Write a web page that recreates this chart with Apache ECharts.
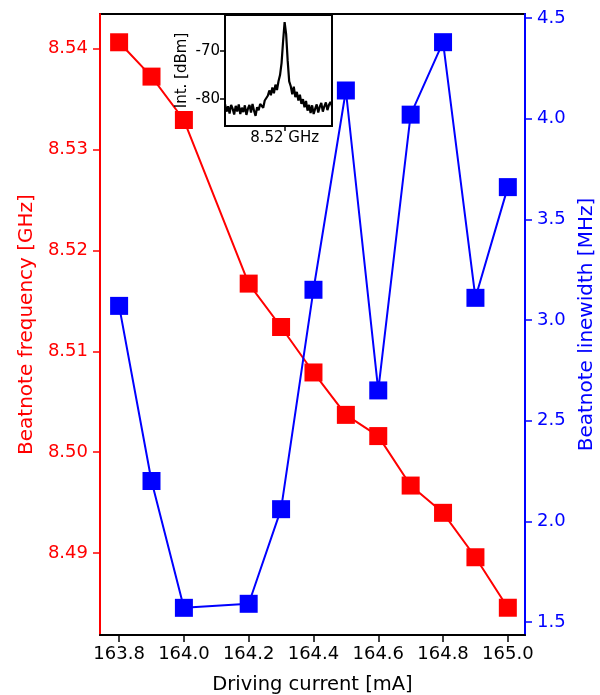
<!DOCTYPE html>
<html>
<head>
    <meta charset="utf-8">
    <title>Beatnote</title>
    <script src="https://cdn.jsdelivr.net/npm/echarts@6/dist/echarts.min.js"></script>
    <style>
        body{ margin:0; background:#fff; }
        #main{ width:600px; height:695px; }
    </style>
</head>
<body>
<div id="main"></div>
<script>
// driving current [mA]
var current = [163.8, 163.9, 164.0, 164.2, 164.3, 164.4, 164.5, 164.6, 164.7, 164.8, 164.9, 165.0];
// beatnote frequency [GHz]
var freq = [8.5406, 8.5372, 8.5329, 8.5167, 8.5124, 8.5079, 8.5037, 8.5016, 8.4967, 8.4940, 8.4896, 8.4846];
// beatnote linewidth [MHz]
var linewidth = [3.07, 2.20, 1.57, 1.59, 2.06, 3.15, 4.14, 2.65, 4.02, 4.38, 3.11, 3.66];

var xTicks = [163.8, 164.0, 164.2, 164.4, 164.6, 164.8, 165.0];
var freqTicks = [8.49, 8.50, 8.51, 8.52, 8.53, 8.54];
var lwTicks = [1.5, 2.0, 2.5, 3.0, 3.5, 4.0, 4.5];

// inset spectrum [dBm], peak sits at 8.52 GHz
var spectrum = [-81.0,-82.6,-81.5,-83.0,-81.2,-82.0,-83.2,-81.4,-82.6,-81.1,
    -83.1,-81.8,-82.7,-81.3,-83.3,-82.0,-81.2,-82.8,-81.0,-82.4,
    -83.5,-81.7,-82.3,-81.0,-80.9,-81.8,-80.3,-80.2,-79.3,-78.2,
    -79.2,-77.6,-78.8,-77.0,-78.1,-76.3,-75.0,-72.5,-68.0,-64.0,
    -66.5,-72.0,-76.3,-77.3,-79.0,-77.4,-79.6,-78.5,-80.3,-79.1,
    -81.0,-80.0,-81.7,-80.4,-82.4,-81.2,-82.9,-81.3,-83.1,-82.0,
    -81.1,-82.8,-81.6,-80.8,-82.6,-81.5,-80.7,-82.3,-81.2,-80.6,-81.5];
var peakIndex = 39;
var insetTicks = [-80, -70];

var font = 'DejaVu Sans';
var red = '#ff0000', blue = '#0000ff';

function pairs(xs, ys){
    var out = [];
    for (var i = 0; i < xs.length; i++) out.push([xs[i], ys[i]]);
    return out;
}
var specData = spectrum.map(function(v, i){ return [i, v]; });

var chart = echarts.init(document.getElementById('main'));
chart.setOption({
    animation: false,
    backgroundColor: '#fff',
    textStyle: { fontFamily: font },
    grid: [
        { left: 100, right: 75, top: 14, bottom: 60, outerBoundsMode: 'none', containLabel: false,
          show: true, borderColor: '#000', borderWidth: 2 },
        { left: 225, top: 15, width: 107, height: 111, outerBoundsMode: 'none', containLabel: false,
          show: true, backgroundColor: '#fff', borderColor: '#000', borderWidth: 2, z: 10 }
    ],
    xAxis: [
        {
            type: 'value', gridIndex: 0, min: 163.741, max: 165.053,
            name: 'Driving current [mA]', nameLocation: 'middle', nameGap: 40,
            nameTextStyle: { fontSize: 19.5, color: '#000', fontFamily: font },
            axisLine: { lineStyle: { color: '#000', width: 2 } },
            axisTick: { customValues: xTicks, length: 7, lineStyle: { color: '#000', width: 1.5 } },
            axisLabel: { customValues: xTicks, fontSize: 18, color: '#000', margin: 10,
                formatter: function(v){ return v.toFixed(1); } },
            splitLine: { show: false }
        },
        {
            type: 'value', gridIndex: 1, min: 0, max: 70,
            axisLine: { lineStyle: { color: '#000', width: 2 } },
            axisTick: { customValues: [peakIndex], length: 5, lineStyle: { color: '#000', width: 1.5 } },
            axisLabel: { customValues: [peakIndex], fontSize: 15, color: '#000', margin: 5,
                formatter: function(){ return '8.52 GHz'; } },
            splitLine: { show: false }, z: 10
        }
    ],
    yAxis: [
        {
            type: 'value', gridIndex: 0, min: 8.4819, max: 8.5434, position: 'left',
            name: 'Beatnote frequency [GHz]', nameLocation: 'middle', nameGap: 63,
            nameTextStyle: { fontSize: 20, color: red, fontFamily: font },
            axisLine: { show: true, lineStyle: { color: red, width: 2 } },
            axisTick: { show: true, customValues: freqTicks, length: 7, lineStyle: { color: red, width: 1.5 } },
            axisLabel: { customValues: freqTicks, fontSize: 18, color: red, margin: 12,
                formatter: function(v){ return v.toFixed(2); } },
            splitLine: { show: false }
        },
        {
            type: 'value', gridIndex: 0, min: 1.435, max: 4.52, position: 'right',
            name: 'Beatnote linewidth [MHz]', nameLocation: 'middle', nameGap: 49, nameRotate: 90,
            nameTextStyle: { fontSize: 20, color: blue, fontFamily: font },
            axisLine: { show: true, lineStyle: { color: blue, width: 2 } },
            axisTick: { show: true, customValues: lwTicks, length: 7, lineStyle: { color: blue, width: 1.5 } },
            axisLabel: { customValues: lwTicks, fontSize: 18, color: blue, margin: 12,
                formatter: function(v){ return v.toFixed(1); } },
            splitLine: { show: false }
        },
        {
            type: 'value', gridIndex: 1, min: -85.6, max: -62.5,
            name: 'Int. [dBm]', nameLocation: 'middle', nameGap: 35,
            nameTextStyle: { fontSize: 15, color: '#000', fontFamily: font },
            axisLine: { show: true, lineStyle: { color: '#000', width: 2 } },
            axisTick: { show: true, customValues: insetTicks, length: 5, lineStyle: { color: '#000', width: 1.5 } },
            axisLabel: { customValues: insetTicks, fontSize: 15, color: '#000', margin: 5,
                formatter: function(v){ return String(v); } },
            splitLine: { show: false }, z: 10
        }
    ],
    series: [
        {
            type: 'line', xAxisIndex: 0, yAxisIndex: 0, data: pairs(current, freq),
            symbol: 'rect', symbolSize: 18, showAllSymbol: true,
            lineStyle: { color: red, width: 2 }, itemStyle: { color: red }, z: 2
        },
        {
            type: 'line', xAxisIndex: 0, yAxisIndex: 1, data: pairs(current, linewidth),
            symbol: 'rect', symbolSize: 18, showAllSymbol: true,
            lineStyle: { color: blue, width: 2 }, itemStyle: { color: blue }, z: 3
        },
        {
            type: 'line', xAxisIndex: 1, yAxisIndex: 2, data: specData,
            showSymbol: false, lineStyle: { color: '#000', width: 2.2 }, z: 11
        }
    ]
});
</script>
</body>
</html>
